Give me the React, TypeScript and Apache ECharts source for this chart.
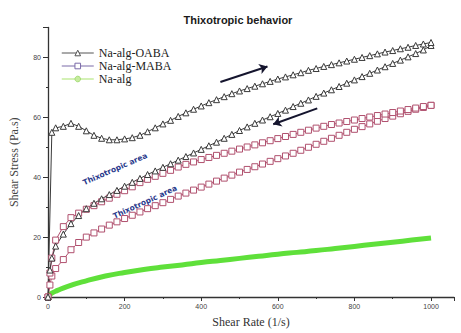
import React, { useEffect, useRef } from "react";
import * as echarts from "echarts";

const shearRate = [0, 5, 10, 20, 40, 60, 80, 100, 120, 140, 160, 180, 200, 220, 240, 260, 280, 300, 320, 340, 360, 380, 400, 420, 440, 460, 480, 500, 520, 540, 560, 580, 600, 620, 640, 660, 680, 700, 720, 740, 760, 780, 800, 820, 840, 860, 880, 900, 920, 940, 960, 980, 1000];

const oabaUp = [0, null, 55, 56.5, 57, 58, 57, 55.5, 54, 53, 52.5, 52.5, 52.8, 53.2, 54, 55.2, 56.5, 57.8, 59, 60.3, 61.5, 62.7, 63.8, 64.9, 65.9, 66.9, 67.9, 68.8, 69.6, 70.4, 71.2, 72, 72.8, 73.5, 74.2, 74.9, 75.7, 76.3, 77, 77.6, 78.2, 78.8, 79.4, 80, 80.6, 81.2, 81.8, 82.3, 82.9, 83.4, 84, 84.5, 85];
const oabaDown = [0, 9, 13, 17, 21, 24.5, 27.2, 29.5, 31.3, 32.8, 34.2, 35.6, 37, 38.3, 39.6, 40.9, 42.1, 43.3, 44.5, 45.7, 46.9, 48.1, 49.3, 50.5, 51.7, 53, 54.3, 55.6, 56.8, 58, 59.1, 60.2, 61.3, 62.4, 63.6, 64.7, 65.8, 67, 68.1, 69.2, 70.3, 71.4, 72.5, 73.6, 74.7, 75.8, 76.9, 78, 79.1, 80.2, 81.3, 82.5, 84];
const mabaUp = [0, 8, 13, 19, 23.5, 26.5, 28, 29.3, 30.5, 31.8, 33, 34.3, 35.5, 36.8, 38.2, 39.3, 40.3, 41.3, 42.3, 43.4, 44.3, 45.1, 45.9, 46.6, 47.3, 48, 48.7, 49.4, 50.1, 50.8, 51.5, 52.2, 52.9, 53.6, 54.3, 55, 55.7, 56.4, 57, 57.6, 58.1, 58.6, 59.1, 59.6, 60.1, 60.6, 61.1, 61.6, 62.1, 62.6, 63.1, 63.6, 64];
const mabaDown = [0, 4, 7, 9.5, 12.5, 15.8, 18.2, 20, 21.4, 22.7, 24, 25.1, 26.2, 27.3, 28.4, 29.5, 30.5, 31.5, 32.6, 33.7, 34.7, 35.7, 36.7, 37.7, 38.7, 39.7, 40.7, 41.7, 42.6, 43.5, 44.4, 45.3, 46.2, 47.1, 48, 49, 50, 51, 52, 53, 54, 55, 56, 56.9, 57.8, 58.7, 59.6, 60.4, 61.2, 62, 62.7, 63.3, 64];

const naAlgRate = [0, 10, 25, 50, 100, 150, 200, 250, 300, 350, 400, 450, 500, 550, 600, 650, 700, 750, 800, 850, 900, 950, 1000];
const naAlg = [0.3, 1.3, 2.2, 3.5, 5.4, 7, 8.2, 9.2, 10, 10.7, 11.5, 12.2, 12.9, 13.6, 14.3, 14.9, 15.5, 16.2, 16.9, 17.6, 18.3, 19, 19.7];

const xTicks = [0, 200, 400, 600, 800, 1000];
const yTicks = [0, 20, 40, 60, 80];

const seriesNames = ["Na-alg-OABA", "Na-alg-MABA", "Na-alg"];

const pairs = (xs: number[], ys: (number | null)[]) => xs.map((x, i) => [x, ys[i]]);

const OABA_COLOR = "#3a3a3a";
const MABA_COLOR = "#b0506e";
const ALG_COLOR = "#5fe03a";

export default function App() {
  const ref = useRef<HTMLDivElement>(null);
  useEffect(() => {
    const chart = echarts.init(ref.current!, null, { renderer: "svg" });
    const markerSeries = (name: string, ys: (number | null)[], symbol: string, color: string, extra: any = {}) => ({
      type: "line",
      name,
      data: pairs(shearRate, ys),
      connectNulls: true,
      symbol,
      symbolSize: 6,
      showAllSymbol: true,
      lineStyle: { color, width: 1 },
      itemStyle: { color: "#ffffff", borderColor: color, borderWidth: 1 },
      z: 3,
      ...extra,
    });
    const areaText = (x: number, y: number, rotation: number) => ({
      type: "text",
      x,
      y,
      rotation,
      style: {
        text: "Thixotropic area",
        fill: "#2a3a8c",
        font: "bold 7.5px DejaVu Sans",
        align: "center",
        verticalAlign: "middle",
      },
    });
    chart.setOption({
      animation: false,
      backgroundColor: "#ffffff",
      title: {
        text: "Thixotropic behavior",
        left: 233,
        textAlign: "center",
        top: 9,
        textStyle: { fontFamily: "Liberation Sans", fontWeight: "bold", fontSize: 11, color: "#1a1a1a" },
      },
      legend: {
        left: 56,
        top: 42,
        orient: "vertical",
        itemWidth: 32,
        itemHeight: 7,
        itemGap: 1,
        textStyle: { fontFamily: "Liberation Serif", fontSize: 12, color: "#222" },
        data: [
          { name: seriesNames[0], itemStyle: { color: "#fff", borderColor: "#555", borderWidth: 1 }, lineStyle: { color: "#555", width: 1 } },
          { name: seriesNames[1], itemStyle: { color: "#fff", borderColor: "#7a6aa8", borderWidth: 1 }, lineStyle: { color: "#7a6aa8", width: 1 } },
          { name: seriesNames[2], itemStyle: { color: "#c6ec9e", borderColor: "#a5dc78", borderWidth: 1 }, lineStyle: { color: "#c6ec9e", width: 1.5 } },
        ],
      },
      grid: { left: 47, right: 7, top: 27.5, bottom: 31 },
      xAxis: {
        type: "value",
        min: 0,
        max: 1060,
        interval: 200,
        name: "Shear Rate (1/s)",
        nameLocation: "middle",
        nameGap: 19,
        nameTextStyle: { fontFamily: "Liberation Serif", fontSize: 12, color: "#333" },
        axisLine: { lineStyle: { color: "#333", width: 1.3 } },
        axisTick: { length: 4, lineStyle: { color: "#333" } },
        minorTick: { show: true, splitNumber: 2, length: 2, lineStyle: { color: "#333" } },
        splitLine: { show: false },
        axisLabel: {
          fontFamily: "Liberation Sans",
          fontSize: 7,
          color: "#444",
          margin: 6,
          formatter: (v: number) => (xTicks.includes(v) ? String(v) : ""),
        },
      },
      yAxis: {
        type: "value",
        min: 0,
        max: 90,
        interval: 20,
        name: "Shear Stress (Pa.s)",
        nameLocation: "middle",
        nameGap: 28,
        nameTextStyle: { fontFamily: "Liberation Serif", fontSize: 12, color: "#444" },
        axisLine: { show: true, lineStyle: { color: "#333", width: 1.3 } },
        axisTick: { show: true, length: 5, lineStyle: { color: "#333" } },
        minorTick: { show: true, splitNumber: 2, length: 2, lineStyle: { color: "#333" } },
        splitLine: { show: false },
        axisLabel: {
          fontFamily: "Liberation Sans",
          fontSize: 7,
          color: "#444",
          margin: 7,
          formatter: (v: number) => (yTicks.includes(v) ? String(v) : ""),
        },
      },
      series: [
        {
          type: "line",
          name: seriesNames[2],
          data: pairs(naAlgRate, naAlg),
          symbol: "circle",
          showSymbol: false,
          smooth: true,
          lineStyle: { color: ALG_COLOR, width: 5 },
          itemStyle: { color: ALG_COLOR },
          z: 2,
        },
        markerSeries(seriesNames[1], mabaDown, "rect", MABA_COLOR),
        markerSeries(seriesNames[1], mabaUp, "rect", MABA_COLOR),
        markerSeries(seriesNames[0], oabaDown, "triangle", OABA_COLOR, {
          markLine: {
            silent: true,
            symbol: ["none", "arrow"],
            symbolSize: 8,
            label: { show: false },
            lineStyle: { color: "#15152e", width: 2, type: "solid" },
            data: [
              [{ coord: [450, 71.8] }, { coord: [573, 77] }],
              [{ coord: [703, 63] }, { coord: [588, 57.7] }],
            ],
          },
        }),
        markerSeries(seriesNames[0], oabaUp, "triangle", OABA_COLOR),
      ],
      graphic: [areaText(115, 169, 0.41), areaText(145, 202, 0.43)],
    });
    return () => chart.dispose();
  }, []);
  return <div ref={ref} style={{ position: "absolute", left: 0, top: 0, width: 461, height: 333 }} />;
}
